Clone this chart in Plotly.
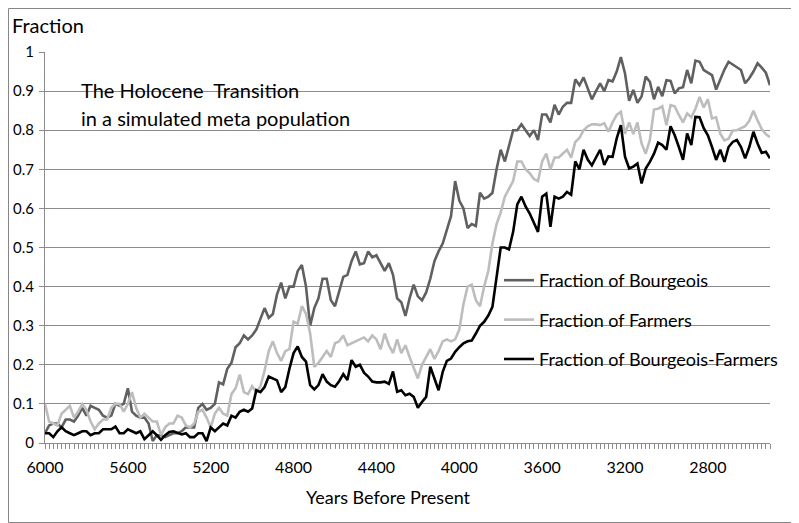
import plotly.graph_objects as go

# years before present, one value every 20 years
years = list(range(6000, 2499, -20))

bourgeois = [
    0.025, 0.045, 0.05, 0.05, 0.04, 0.06, 0.06, 0.055, 0.07, 0.09,
    0.07, 0.095, 0.09, 0.085, 0.07, 0.065, 0.07, 0.1, 0.095, 0.1,
    0.14, 0.08, 0.07, 0.065, 0.065, 0.05, 0.005, 0.02, 0.02, 0.015,
    0.02, 0.025, 0.025, 0.03, 0.04, 0.04, 0.04, 0.09, 0.1, 0.085,
    0.09, 0.1, 0.155, 0.15, 0.19, 0.205, 0.245, 0.255, 0.275, 0.265,
    0.275, 0.29, 0.32, 0.345, 0.32, 0.33, 0.38, 0.41, 0.37, 0.4,
    0.4, 0.44, 0.455, 0.4, 0.3, 0.345, 0.37, 0.42, 0.42, 0.365,
    0.35, 0.39, 0.425, 0.43, 0.465, 0.49, 0.457, 0.46, 0.49, 0.475,
    0.48, 0.46, 0.44, 0.46, 0.43, 0.37, 0.36, 0.325, 0.37, 0.405,
    0.375, 0.365, 0.385, 0.42, 0.465, 0.49, 0.51, 0.545, 0.58, 0.67,
    0.62, 0.6, 0.55, 0.56, 0.555, 0.64, 0.625, 0.63, 0.64, 0.7,
    0.75, 0.72, 0.76, 0.8, 0.8, 0.815, 0.8, 0.785, 0.8, 0.775,
    0.84, 0.84, 0.82, 0.865, 0.84, 0.86, 0.87, 0.87, 0.93, 0.915,
    0.935, 0.905, 0.879, 0.9, 0.92, 0.9, 0.928, 0.925, 0.95, 0.987,
    0.945, 0.875, 0.903, 0.87, 0.886, 0.937, 0.924, 0.879, 0.911, 0.887,
    0.928, 0.926, 0.894, 0.907, 0.91, 0.954, 0.92, 0.978, 0.975, 0.954,
    0.948, 0.941, 0.904, 0.93, 0.955, 0.975, 0.968, 0.96, 0.954, 0.92,
    0.933, 0.95, 0.971, 0.96, 0.947, 0.915,
]

farmers = [
    0.1, 0.055, 0.05, 0.045, 0.075, 0.085, 0.095, 0.065, 0.08, 0.1,
    0.085, 0.055, 0.035, 0.05, 0.06, 0.06, 0.09, 0.1, 0.1, 0.08,
    0.1, 0.13, 0.09, 0.065, 0.075, 0.065, 0.055, 0.055, 0.02, 0.04,
    0.05, 0.05, 0.07, 0.065, 0.045, 0.04, 0.05, 0.08, 0.085, 0.065,
    0.04, 0.075, 0.09, 0.075, 0.07, 0.125, 0.14, 0.175, 0.13, 0.125,
    0.145, 0.13, 0.145, 0.185, 0.235, 0.26, 0.23, 0.21, 0.235, 0.24,
    0.31, 0.305, 0.35, 0.33, 0.28, 0.195, 0.205, 0.22, 0.235, 0.22,
    0.255, 0.26, 0.275, 0.25, 0.255, 0.26, 0.266, 0.27, 0.26, 0.275,
    0.265, 0.24, 0.28, 0.25, 0.23, 0.265, 0.23, 0.25, 0.22, 0.19,
    0.165, 0.2, 0.22, 0.24, 0.215, 0.235, 0.26, 0.265, 0.26, 0.265,
    0.29, 0.355, 0.4, 0.405, 0.365, 0.35, 0.4, 0.44, 0.51, 0.56,
    0.59, 0.63, 0.65, 0.67, 0.72, 0.72, 0.7, 0.69, 0.675, 0.67,
    0.72, 0.74, 0.7, 0.73, 0.73, 0.74, 0.75, 0.73, 0.77, 0.78,
    0.8, 0.81, 0.815, 0.815, 0.813, 0.818, 0.796, 0.82, 0.839, 0.847,
    0.791, 0.82, 0.79, 0.82, 0.766, 0.74, 0.775, 0.853, 0.855, 0.861,
    0.813, 0.864, 0.861, 0.839, 0.82, 0.843, 0.833, 0.855, 0.885, 0.858,
    0.879, 0.83, 0.833, 0.791, 0.774, 0.778, 0.799, 0.8, 0.805, 0.81,
    0.824, 0.85, 0.825, 0.803, 0.79, 0.782,
]

bourgeois_farmers = [
    0.025, 0.025, 0.015, 0.03, 0.04, 0.03, 0.025, 0.02, 0.025, 0.03,
    0.03, 0.02, 0.025, 0.025, 0.035, 0.035, 0.035, 0.042, 0.025, 0.025,
    0.035, 0.03, 0.025, 0.03, 0.01, 0.02, 0.03, 0.02, 0.008, 0.02,
    0.028, 0.03, 0.025, 0.022, 0.025, 0.015, 0.015, 0.025, 0.025, 0.005,
    0.04, 0.03, 0.04, 0.05, 0.045, 0.07, 0.065, 0.08, 0.085, 0.08,
    0.088, 0.135, 0.13, 0.143, 0.17, 0.165, 0.16, 0.13, 0.143, 0.19,
    0.23, 0.247, 0.22, 0.208, 0.148, 0.137, 0.148, 0.176, 0.157, 0.148,
    0.144, 0.158, 0.176, 0.161, 0.212, 0.195, 0.2, 0.18, 0.17, 0.157,
    0.155, 0.155, 0.157, 0.151, 0.183, 0.131, 0.135, 0.122, 0.126, 0.118,
    0.09, 0.105, 0.118, 0.195, 0.165, 0.135, 0.182, 0.21, 0.216, 0.233,
    0.245, 0.255, 0.26, 0.262, 0.28, 0.3, 0.31, 0.326, 0.348, 0.42,
    0.5, 0.5, 0.495, 0.54, 0.61, 0.63, 0.605, 0.587, 0.562, 0.54,
    0.63, 0.638, 0.553, 0.63, 0.625, 0.63, 0.642, 0.635, 0.72, 0.7,
    0.75, 0.725, 0.71, 0.73, 0.75, 0.711, 0.733, 0.732, 0.779, 0.813,
    0.732, 0.702, 0.707, 0.715, 0.664, 0.702, 0.719, 0.74, 0.768, 0.762,
    0.75, 0.81, 0.787, 0.757, 0.724, 0.792, 0.762, 0.834, 0.833, 0.805,
    0.787, 0.757, 0.724, 0.75, 0.719, 0.757, 0.77, 0.775, 0.757, 0.728,
    0.757, 0.796, 0.766, 0.742, 0.745, 0.728,
]

FONT = "Lato"
GRID = "#8c8c8c"

fig = go.Figure()
for i, (name, vals, col) in enumerate([
        ("Fraction of Bourgeois", bourgeois, "#606060"),
        ("Fraction of Farmers", farmers, "#bdbdbd"),
        ("Fraction of Bourgeois-Farmers", bourgeois_farmers, "#000000")]):
    fig.add_trace(go.Scatter(x=years[:len(vals)], y=vals, mode="lines", name=name,
                             legendgroup=str(i),
                             line=dict(color=col, width=2.6)))

# the page puts the figure 8px in from the top-left corner, so the figure is
# 8px smaller; plot area on screen: left 45, right 770, top 52, bottom 443
OFF = 8
W, H = 799 - OFF, 523 - OFF
L, R, T, B = 45 - OFF, 29, 52 - OFF, 80
pw, ph = W - L - R, H - T - B

def px(x):  # screen pixel -> paper
    return (x - 45) / pw

def py(y):
    return (443 - y) / ph

fig.update_layout(
    width=W, height=H,
    margin=dict(l=L, r=R, t=T, b=B),
    paper_bgcolor="white", plot_bgcolor="white",
    font=dict(family=FONT, size=16, color="#000000"),
    showlegend=True,
    legend=dict(x=px(499), y=py(262), xanchor="left", yanchor="top",
                bgcolor="rgba(0,0,0,0)", font=dict(size=18),
                tracegroupgap=13, itemwidth=30),
    xaxis=dict(range=[6000, 2500], tick0=6000, dtick=400, automargin=False,
               showgrid=False, showline=True, linecolor=GRID, linewidth=1,
               ticks="outside", ticklen=5, tickcolor=GRID,
               minor=dict(dtick=20, tick0=6000, ticks="outside", ticklen=5,
                          tickcolor=GRID, showgrid=False),
               ticklabelstandoff=5, zeroline=False),
    yaxis=dict(range=[0, 1], dtick=0.1, tickformat="~g", automargin=False,
               showgrid=True, gridcolor=GRID, gridwidth=1,
               showline=True, linecolor=GRID, linewidth=1,
               ticks="outside", ticklen=5, tickcolor=GRID,
               tickfont=dict(size=15), ticklabelstandoff=2, zeroline=False),
    annotations=[
        dict(text="Fraction", x=px(10), y=py(25), xref="paper", yref="paper",
             xanchor="left", yanchor="middle", showarrow=False, font=dict(size=20)),
        dict(text="The Holocene  Transition", x=px(79), y=py(90), xref="paper", yref="paper",
             xanchor="left", yanchor="middle", showarrow=False, font=dict(size=20)),
        dict(text="in a simulated meta population", x=px(79), y=py(118), xref="paper",
             yref="paper", xanchor="left", yanchor="middle", showarrow=False,
             font=dict(size=20)),
        dict(text="Years Before Present", x=px(388), y=py(497), xref="paper", yref="paper",
             xanchor="center", yanchor="middle", showarrow=False, font=dict(size=18)),
    ],
    shapes=[
        dict(type="rect", xref="paper", yref="paper",
             x0=px(OFF + 0.5), x1=px(798.5), y0=py(522.5), y1=py(OFF + 0.5),
             line=dict(color="#868686", width=1), layer="below"),
    ],
)

fig.write_html("out.html")
